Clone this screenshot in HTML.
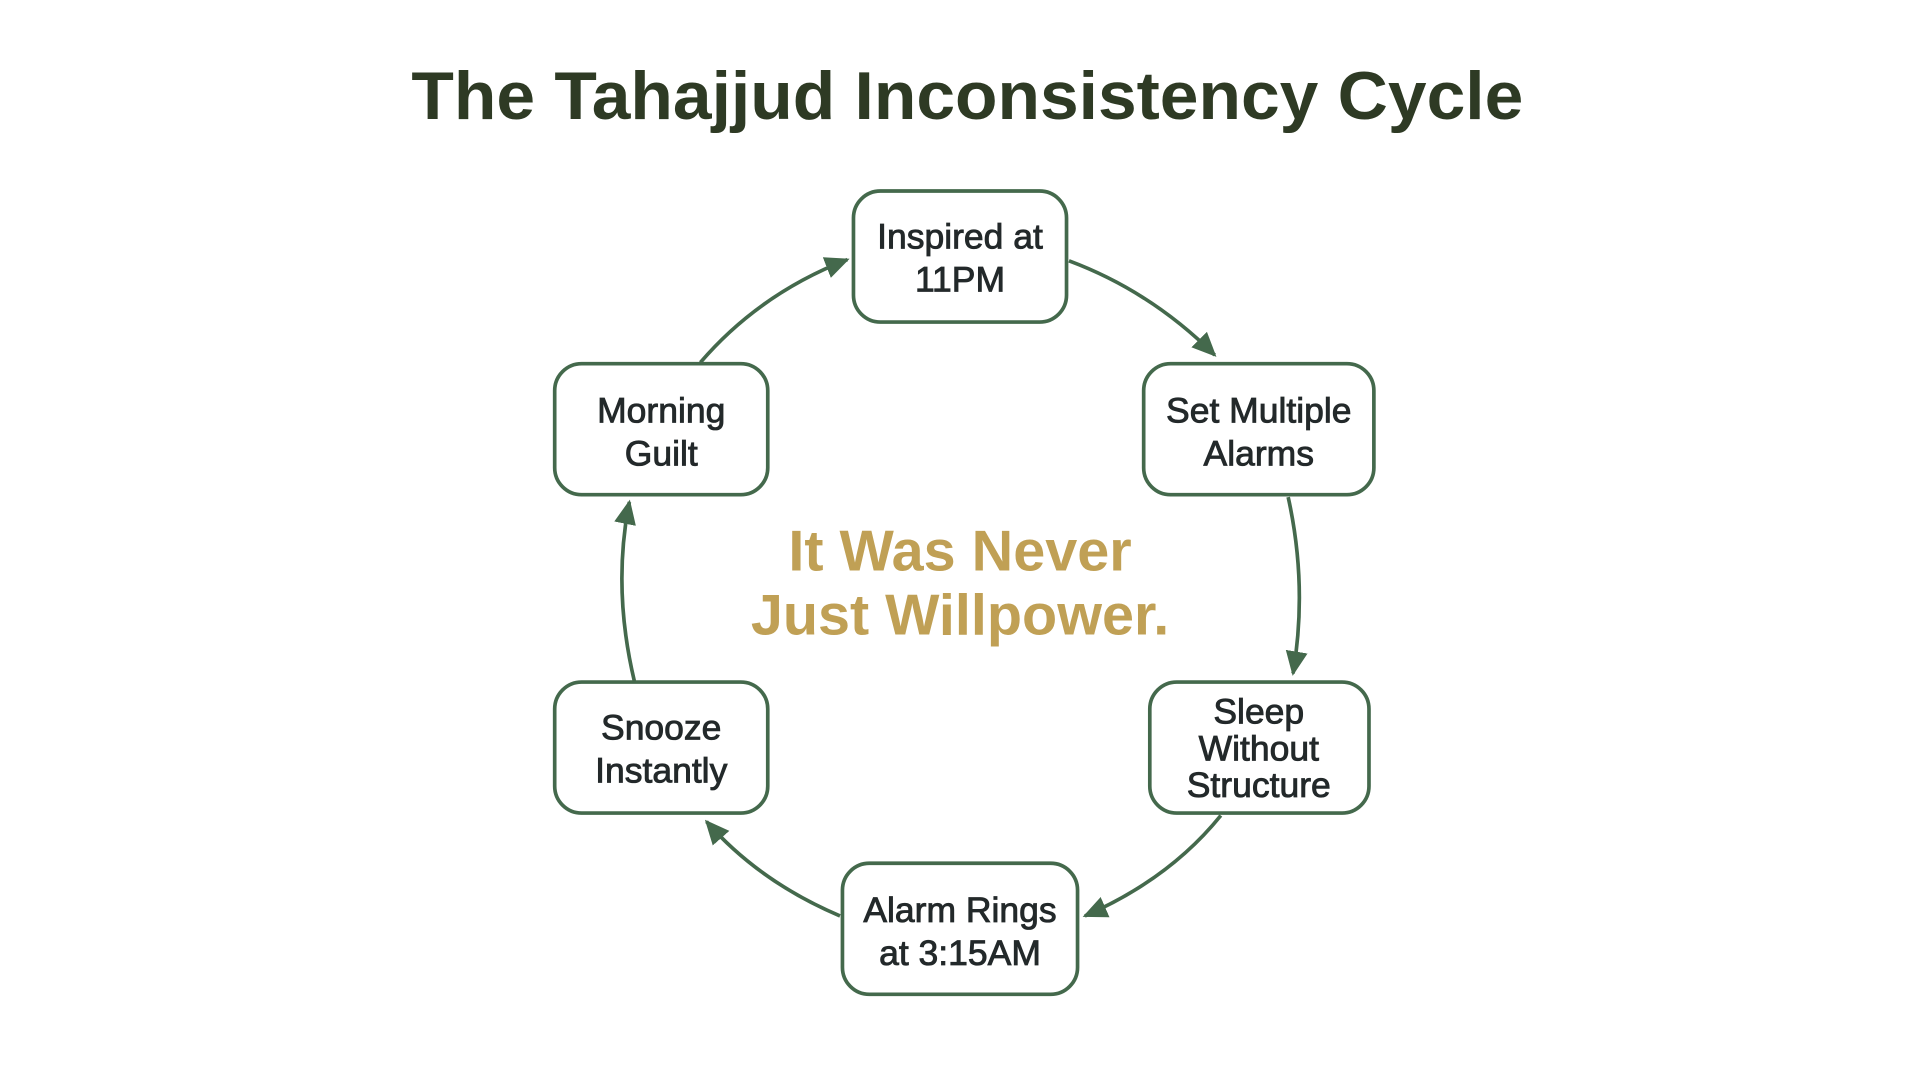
<!DOCTYPE html>
<html><head><meta charset="utf-8"><style>
html,body{margin:0;padding:0;background:#fff;}
svg{display:block}
</style></head><body>
<svg width="1920" height="1080" viewBox="0 0 1568 882" xmlns="http://www.w3.org/2000/svg">
<defs>
<marker id="b" viewBox="0 0 10 10" refX="9" refY="5" markerWidth="20" markerHeight="20" orient="auto" markerUnits="userSpaceOnUse">
<path d="M0,0.5 L10,5 L0,9.5 z" fill="#44694c"/>
</marker>
</defs>
<text x="790" y="97" text-anchor="middle" font-family="Liberation Sans, sans-serif" font-weight="bold" font-size="55" fill="#2e3a24" textLength="908" lengthAdjust="spacingAndGlyphs">The Tahajjud Inconsistency Cycle</text>

<g fill="none" stroke="#44694c" stroke-width="3">
<path d="M873,213 Q940,238 992,290" marker-end="url(#b)"/>
<path d="M1052,406 Q1068,478 1056,550" marker-end="url(#b)"/>
<path d="M997,666 Q955,718 886,748" marker-end="url(#b)"/>
<path d="M686,748 Q620,720 577,671" marker-end="url(#b)"/>
<path d="M518,556 Q500,480 514,410" marker-end="url(#b)"/>
<path d="M572,296 Q620,240 692,212" marker-end="url(#b)"/>
</g>

<g fill="#fff" stroke="#44694c" stroke-width="3">
<rect x="697" y="156" width="174" height="107" rx="22"/>
<rect x="934" y="297" width="188" height="107" rx="22"/>
<rect x="939" y="557" width="179" height="107" rx="22"/>
<rect x="688" y="705" width="192" height="107" rx="22"/>
<rect x="453" y="557" width="174" height="107" rx="22"/>
<rect x="453" y="297" width="174" height="107" rx="22"/>
</g>

<g font-family="Liberation Sans, sans-serif" font-size="29" fill="#23292a" text-anchor="middle" stroke="#23292a" stroke-width="0.7">
<text x="784" y="203">Inspired at</text><text x="784" y="238">11PM</text>
<text x="1028" y="345">Set Multiple</text><text x="1028" y="380">Alarms</text>
<text x="1028" y="591">Sleep</text><text x="1028" y="621">Without</text><text x="1028" y="651">Structure</text>
<text x="784" y="753">Alarm Rings</text><text x="784" y="788">at 3:15AM</text>
<text x="540" y="604">Snooze</text><text x="540" y="639">Instantly</text>
<text x="540" y="345">Morning</text><text x="540" y="380">Guilt</text>
</g>

<g font-family="Liberation Sans, sans-serif" font-weight="bold" font-size="47" fill="#c0a055" text-anchor="middle">
<text x="784" y="466">It Was Never</text>
<text x="784" y="518">Just Willpower.</text>
</g>
</svg>
</body></html>
